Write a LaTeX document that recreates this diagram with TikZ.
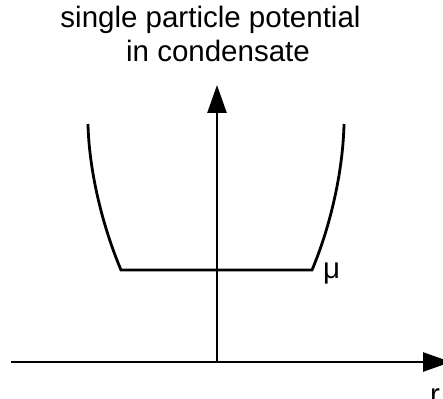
\documentclass[tikz,border=0pt]{standalone}
\usepackage{fontspec}
\setmainfont{Liberation Sans}
\usetikzlibrary{arrows.meta}
\begin{document}
\begin{tikzpicture}[x=1pt,y=-1pt,
          axis/.style={line width=2.6pt,-{Triangle[length=28pt,width=19pt]}},
          wall/.style={line width=2.8pt,line join=miter},
          lbl/.style={inner sep=0pt,font=\fontsize{29.5}{34}\selectfont}]
          \useasboundingbox (0,0) rectangle (443,398);
          \node[lbl,anchor=base] (T1) at (210.5,28) {single particle potential};
          \node[lbl,anchor=base] (T2) at (218,62) {in condensate};
          \coordinate (O) at (217,362);
          \coordinate (X0) at (11,362);
          \coordinate (X1) at (451,362);
          \coordinate (Y1) at (217,85);
          \coordinate (L0) at (88,124);
          \coordinate (L1) at (121,270);
          \coordinate (R1) at (312,270);
          \coordinate (R0) at (344,124);
          \draw[axis] (X0) -- (X1);
          \draw[axis] (O) -- (Y1);
          \draw[wall] (L0) .. controls (89,170) and (102,225) .. (L1)
            -- (R1) .. controls (331,225) and (343,170) .. (R0);
          \node[lbl,anchor=base west] (MU) at (323,278) {μ};
          \node[lbl,anchor=base west] (R) at (430,404) {r};
        \end{tikzpicture}
\end{document}
